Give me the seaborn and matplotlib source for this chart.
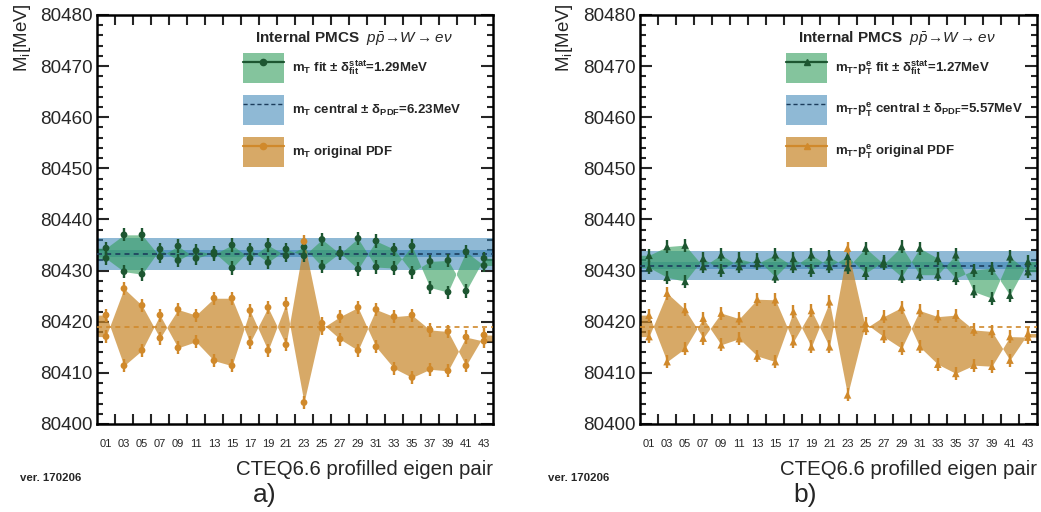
import matplotlib
matplotlib.use("Agg")
import matplotlib.pyplot as plt
from matplotlib.patches import Patch
from matplotlib.lines import Line2D
from matplotlib.ticker import FixedLocator, MultipleLocator
import numpy as np
import pandas as pd
import seaborn as sns

# ---------------------------------------------------------------- data
pair_labels = ["01", "03", "05", "07", "09", "11", "13", "15", "17", "19", "21",
               "23", "25", "27", "29", "31", "33", "35", "37", "39", "41", "43"]

# panel a) : m_T fit
a_orig_plus = [80421.3, 80411.4, 80414.4, 80421.3, 80414.9, 80416.1, 80412.4, 80411.4,
               80422.2, 80414.4, 80423.5, 80404.2, 80419.7, 80416.6, 80414.4, 80422.4,
               80421.0, 80421.3, 80418.4, 80418.1, 80411.4, 80417.4]
a_orig_minus = [80417.1, 80426.5, 80423.2, 80416.8, 80422.4, 80421.3, 80424.6, 80424.6,
                80415.9, 80422.8, 80415.5, 80435.7, 80418.7, 80421.0, 80422.8, 80415.1,
                80410.9, 80409.1, 80410.7, 80410.4, 80417.0, 80416.2]
a_fit_plus = [80434.4, 80437.0, 80437.0, 80432.7, 80434.8, 80432.4, 80433.6, 80430.5,
              80434.2, 80431.6, 80434.2, 80432.9, 80436.1, 80433.3, 80436.3, 80430.7,
              80430.5, 80434.8, 80426.7, 80425.8, 80433.7, 80431.0]
a_fit_minus = [80432.4, 80429.8, 80429.3, 80434.2, 80432.0, 80433.9, 80433.2, 80435.0,
               80432.4, 80435.0, 80432.9, 80434.6, 80430.8, 80433.5, 80430.3, 80435.8,
               80434.2, 80429.7, 80431.8, 80432.0, 80426.0, 80432.4]
a_fit_central = 80433.3
a_orig_central = 80419.0
a_delta_pdf = 6.23
a_delta_stat = 1.29

# panel b) : m_T - p_T^e fit
b_orig_plus = [80421.3, 80412.2, 80414.8, 80420.7, 80415.5, 80416.7, 80413.3, 80412.2,
               80422.0, 80415.1, 80423.9, 80405.7, 80419.7, 80417.1, 80414.8, 80422.2,
               80421.0, 80421.3, 80418.4, 80418.1, 80412.5, 80417.7]
b_orig_minus = [80417.1, 80425.6, 80422.4, 80416.8, 80421.7, 80420.6, 80424.4, 80424.3,
                80416.1, 80422.2, 80415.1, 80434.4, 80418.7, 80421.0, 80422.8, 80415.1,
                80411.7, 80409.9, 80411.5, 80411.3, 80417.1, 80417.0]
b_fit_plus = [80433.0, 80434.7, 80435.0, 80430.8, 80433.1, 80430.8, 80432.2, 80428.8,
              80432.4, 80430.1, 80432.7, 80430.6, 80434.4, 80431.3, 80434.7, 80429.2,
              80429.2, 80433.1, 80425.9, 80424.6, 80432.7, 80429.8]
b_fit_minus = [80430.6, 80428.7, 80427.9, 80432.4, 80430.1, 80432.3, 80431.4, 80433.1,
               80430.8, 80433.1, 80430.8, 80432.8, 80429.5, 80431.8, 80428.8, 80434.4,
               80432.4, 80428.5, 80430.1, 80430.5, 80425.2, 80431.8]
b_fit_central = 80431.0
b_orig_central = 80419.0
b_delta_pdf = 5.57
b_delta_stat = 1.27

a_labels = ["m$_{\\mathbf{T}}$ fit \u00b1 \u03b4$^{\\mathbf{stat}}_{\\mathbf{fit}}$=1.29MeV",
            "m$_{\\mathbf{T}}$ central \u00b1 \u03b4$_{\\mathbf{PDF}}$=6.23MeV",
            "m$_{\\mathbf{T}}$ original PDF"]
b_labels = ["m$_{\\mathbf{T}}$-p$^{\\mathbf{e}}_{\\mathbf{T}}$ fit \u00b1 \u03b4$^{\\mathbf{stat}}_{\\mathbf{fit}}$=1.27MeV",
            "m$_{\\mathbf{T}}$-p$^{\\mathbf{e}}_{\\mathbf{T}}$ central \u00b1 \u03b4$_{\\mathbf{PDF}}$=5.57MeV",
            "m$_{\\mathbf{T}}$-p$^{\\mathbf{e}}_{\\mathbf{T}}$ original PDF"]

# ---------------------------------------------------------------- style
sns.set_theme(style="ticks")
plt.rcParams["font.family"] = ["Liberation Sans", "DejaVu Sans"]
plt.rcParams["mathtext.fontset"] = "custom"
plt.rcParams["mathtext.rm"] = "Liberation Sans"
plt.rcParams["mathtext.it"] = "Liberation Sans:italic"
plt.rcParams["mathtext.bf"] = "Liberation Sans:bold"
plt.rcParams["mathtext.sf"] = "Liberation Sans"

GREEN_FILL = (0.20, 0.62, 0.36)
GREEN_MARK = "#1d5631"
BLUE_FILL = (0.20, 0.50, 0.70)
BLUE_LINE = "#1c3d5c"
ORANGE_FILL = (0.78, 0.52, 0.15)
ORANGE_MARK = "#d0892b"
A_GREEN, A_BLUE, A_ORANGE = 0.6, 0.55, 0.7
LEG_SIZE = 9.5


def padded(xs, vals):
    """Extend a series flat to both x-limits."""
    return np.r_[xs[0] - 0.5, xs, xs[-1] + 0.5], np.r_[vals[0], vals, vals[-1]]


def draw_panel(ax, fit_plus, fit_minus, orig_plus, orig_minus, fit_central,
               orig_central, d_pdf, d_stat, marker, msize, labels):
    x = np.arange(len(pair_labels), dtype=float)

    # PDF band around the fitted central value and the narrow stat strip
    ax.axhspan(fit_central - d_pdf / 2, fit_central + d_pdf / 2,
               color=BLUE_FILL, alpha=A_BLUE, lw=0, zorder=1)
    ax.axhspan(fit_central - d_stat / 2, fit_central + d_stat / 2,
               color=BLUE_FILL, alpha=A_BLUE, lw=0, zorder=1.1)

    # envelopes of the +/- eigen variations
    xf, yp = padded(x, fit_plus)
    _, ym = padded(x, fit_minus)
    ax.fill_between(xf, yp, ym, color=GREEN_FILL, alpha=A_GREEN, lw=0, zorder=2)
    xo, op = padded(x, orig_plus)
    _, om = padded(x, orig_minus)
    ax.fill_between(xo, op, om, color=ORANGE_FILL, alpha=A_ORANGE, lw=0, zorder=2)

    ax.axhline(fit_central, color=BLUE_LINE, lw=1.2, ls=(0, (3, 2.5)), zorder=3)
    ax.axhline(orig_central, color=ORANGE_MARK, lw=1.2, ls=(0, (3, 2.5)), zorder=3)

    # points with stat error bars
    df = pd.DataFrame({
        "x": np.r_[x, x, x, x],
        "y": np.r_[fit_plus, fit_minus, orig_plus, orig_minus],
        "kind": ["fit"] * (2 * len(x)) + ["orig"] * (2 * len(x)),
    })
    for kind, col in (("fit", GREEN_MARK), ("orig", ORANGE_MARK)):
        sub = df[df["kind"] == kind]
        ax.errorbar(sub["x"], sub["y"], yerr=d_stat, fmt="none", ecolor=col,
                    elinewidth=1.7, capsize=0, zorder=4)
        sns.scatterplot(data=sub, x="x", y="y", marker=marker, color=col, s=msize,
                        edgecolor="none", ax=ax, zorder=5, legend=False)

    ax.set_xlim(-0.5, len(x) - 0.5)
    ax.set_ylim(80400, 80480)
    ax.set_xlabel("")
    ax.set_ylabel("")

    ax.xaxis.set_major_locator(FixedLocator(x))
    ax.set_xticklabels(pair_labels)
    ax.xaxis.set_minor_locator(FixedLocator(x[:-1] + 0.5))
    ax.yaxis.set_major_locator(MultipleLocator(10))
    ax.yaxis.set_minor_locator(MultipleLocator(2))
    ax.tick_params(axis="x", which="major", length=0, labelsize=8, pad=11,
                   top=True, bottom=True)
    ax.tick_params(axis="x", which="minor", direction="in", length=7, width=1.5,
                   top=True, bottom=True)
    ax.tick_params(axis="y", which="major", direction="in", length=8.5, width=1.5,
                   labelsize=13.6, pad=3, left=True, right=True)
    ax.tick_params(axis="y", which="minor", direction="in", length=4.3, width=1.5,
                   left=True, right=True)
    for sp in ax.spines.values():
        sp.set_linewidth(1.8)
        sp.set_color("black")
        sp.set_visible(True)

    ax.text(-0.189, 1.03, "M$_{\\mathrm{i}}$[MeV]", rotation=90, ha="center",
            va="top", fontsize=13.5, transform=ax.transAxes)
    ax.text(1.0, -0.112, "CTEQ6.6 profilled eigen pair", ha="right", va="center",
            fontsize=14.7, transform=ax.transAxes)

    # legend
    handles = [
        (Patch(facecolor=GREEN_FILL, alpha=A_GREEN, lw=0),
         Line2D([], [], color=GREEN_MARK, lw=1.6, marker=marker, ms=4.5)),
        (Patch(facecolor=BLUE_FILL, alpha=A_BLUE, lw=0),
         Line2D([], [], color=BLUE_LINE, lw=1.0, ls=(0, (3, 2)))),
        (Patch(facecolor=ORANGE_FILL, alpha=A_ORANGE, lw=0),
         Line2D([], [], color=ORANGE_MARK, lw=1.6, marker=marker, ms=4.5)),
    ]
    leg = ax.legend(handles, labels, loc="upper left", bbox_to_anchor=(0.368, 0.907),
                    frameon=False, borderpad=0, borderaxespad=0, numpoints=1,
                    handlelength=3.1, handleheight=3.1, labelspacing=0.91,
                    handletextpad=0.6, prop={"size": LEG_SIZE, "weight": "bold"})
    ax.text(0.399, 0.944, "Internal PMCS  $p\\bar{p}\\!\\rightarrow\\! W\\rightarrow e\\nu$",
            ha="left", va="center", fontsize=11, fontweight="bold",
            transform=ax.transAxes)
    return leg


fig = plt.figure(figsize=(10.41, 5.12), dpi=100)
ax_a = fig.add_axes([97 / 1041, 88 / 512, 396 / 1041, 409 / 512])
ax_b = fig.add_axes([640 / 1041, 88 / 512, 397 / 1041, 409 / 512])

draw_panel(ax_a, a_fit_plus, a_fit_minus, a_orig_plus, a_orig_minus, a_fit_central,
           a_orig_central, a_delta_pdf, a_delta_stat, "o", 24, a_labels)
draw_panel(ax_b, b_fit_plus, b_fit_minus, b_orig_plus, b_orig_minus, b_fit_central,
           b_orig_central, b_delta_pdf, b_delta_stat, "^", 30, b_labels)

fig.text(20 / 1041, 1 - 478 / 512, "ver. 170206", fontsize=8.2, fontweight="bold",
         ha="left", va="center")
fig.text(548 / 1041, 1 - 478 / 512, "ver. 170206", fontsize=8.2, fontweight="bold",
         ha="left", va="center")
fig.text(265 / 1041, 1 - 495 / 512, "a)", fontsize=19, ha="center", va="center")
fig.text(805 / 1041, 1 - 495 / 512, "b)", fontsize=19, ha="center", va="center")

fig.savefig("out.png", dpi=100)
